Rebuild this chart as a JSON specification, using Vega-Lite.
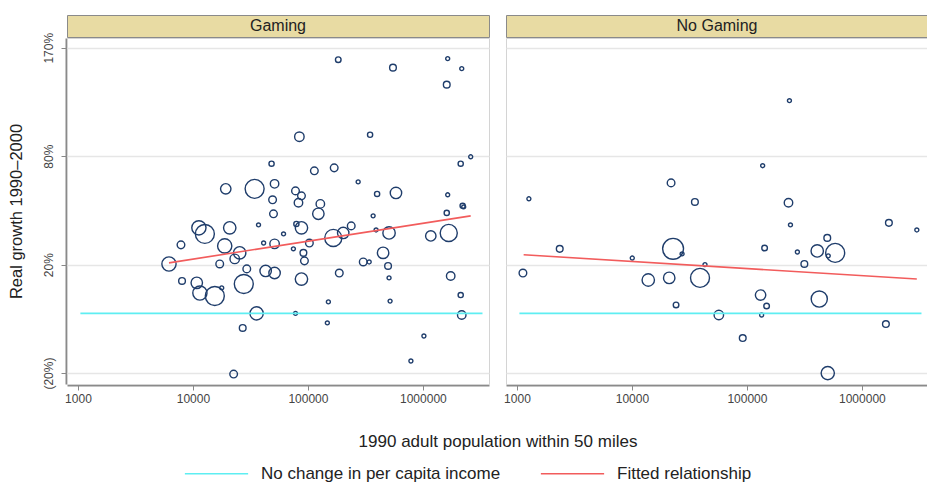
{
  "$schema": "https://vega.github.io/schema/vega-lite/v6.json",
  "background": "white",
  "padding": {"left": 7, "top": 14, "right": 0, "bottom": 0},
  "config": {
    "font": "Liberation Sans",
    "view": {"stroke": "#d0d0d0"},
    "legend": {"orient": "bottom", "direction": "horizontal", "title": null, "symbolType": "stroke", "symbolSize": 4000, "symbolStrokeWidth": 1.6, "labelFontSize": 17, "labelColor": "#222", "labelLimit": 500, "columnPadding": 36, "labelOffset": 12, "offset": -9, "layout": {"bottom": {"anchor": "middle"}}}
  },
  "datasets": {
    "panels": [{"panel": "Gaming"}, {"panel": "No Gaming"}],
    "all": [
      {"panel": "Gaming", "pop": 6190, "ratio": 1.203, "weight": 9},
      {"panel": "Gaming", "pop": 7870, "ratio": 1.292, "weight": 2.6},
      {"panel": "Gaming", "pop": 11270, "ratio": 1.377, "weight": 9},
      {"panel": "Gaming", "pop": 12700, "ratio": 1.346, "weight": 16},
      {"panel": "Gaming", "pop": 20900, "ratio": 1.377, "weight": 6.8},
      {"panel": "Gaming", "pop": 37200, "ratio": 1.392, "weight": 0.7},
      {"panel": "Gaming", "pop": 50200, "ratio": 1.451, "weight": 2.6},
      {"panel": "Gaming", "pop": 18900, "ratio": 1.287, "weight": 9},
      {"panel": "Gaming", "pop": 25500, "ratio": 1.254, "weight": 6.8},
      {"panel": "Gaming", "pop": 17100, "ratio": 1.203, "weight": 2.6},
      {"panel": "Gaming", "pop": 23100, "ratio": 1.226, "weight": 4},
      {"panel": "Gaming", "pop": 29400, "ratio": 1.181, "weight": 2.6},
      {"panel": "Gaming", "pop": 42900, "ratio": 1.172, "weight": 5.8},
      {"panel": "Gaming", "pop": 41200, "ratio": 1.301, "weight": 0.7},
      {"panel": "Gaming", "pop": 27700, "ratio": 1.116, "weight": 16},
      {"panel": "Gaming", "pop": 8040, "ratio": 1.129, "weight": 2},
      {"panel": "Gaming", "pop": 10800, "ratio": 1.121, "weight": 5.8},
      {"panel": "Gaming", "pop": 11500, "ratio": 1.079, "weight": 9},
      {"panel": "Gaming", "pop": 15500, "ratio": 1.067, "weight": 16},
      {"panel": "Gaming", "pop": 17800, "ratio": 1.1, "weight": 0.7},
      {"panel": "Gaming", "pop": 35800, "ratio": 1.0, "weight": 7.8},
      {"panel": "Gaming", "pop": 27100, "ratio": 0.947, "weight": 2},
      {"panel": "Gaming", "pop": 22600, "ratio": 0.797, "weight": 2.6},
      {"panel": "Gaming", "pop": 19300, "ratio": 1.593, "weight": 4.8},
      {"panel": "Gaming", "pop": 34400, "ratio": 1.593, "weight": 16},
      {"panel": "Gaming", "pop": 51300, "ratio": 1.623, "weight": 3.2},
      {"panel": "Gaming", "pop": 48300, "ratio": 1.75, "weight": 1.2},
      {"panel": "Gaming", "pop": 183700, "ratio": 2.582, "weight": 1.4},
      {"panel": "Gaming", "pop": 549500, "ratio": 2.506, "weight": 2},
      {"panel": "Gaming", "pop": 1644000, "ratio": 2.592, "weight": 0.7},
      {"panel": "Gaming", "pop": 2178000, "ratio": 2.497, "weight": 0.7},
      {"panel": "Gaming", "pop": 1613000, "ratio": 2.352, "weight": 2},
      {"panel": "Gaming", "pop": 84300, "ratio": 1.936, "weight": 4},
      {"panel": "Gaming", "pop": 347500, "ratio": 1.95, "weight": 1.2},
      {"panel": "Gaming", "pop": 2606000, "ratio": 1.796, "weight": 0.7},
      {"panel": "Gaming", "pop": 2133000, "ratio": 1.75, "weight": 1.2},
      {"panel": "Gaming", "pop": 113800, "ratio": 1.704, "weight": 2.6},
      {"panel": "Gaming", "pop": 169300, "ratio": 1.723, "weight": 2.6},
      {"panel": "Gaming", "pop": 273600, "ratio": 1.635, "weight": 0.7},
      {"panel": "Gaming", "pop": 78000, "ratio": 1.581, "weight": 2.6},
      {"panel": "Gaming", "pop": 87900, "ratio": 1.552, "weight": 2.6},
      {"panel": "Gaming", "pop": 399900, "ratio": 1.563, "weight": 1.2},
      {"panel": "Gaming", "pop": 583400, "ratio": 1.569, "weight": 5.8},
      {"panel": "Gaming", "pop": 1644000, "ratio": 1.558, "weight": 0.7},
      {"panel": "Gaming", "pop": 128300, "ratio": 1.506, "weight": 3.2},
      {"panel": "Gaming", "pop": 82800, "ratio": 1.512, "weight": 3.2},
      {"panel": "Gaming", "pop": 2218000, "ratio": 1.495, "weight": 1.2},
      {"panel": "Gaming", "pop": 123300, "ratio": 1.451, "weight": 5.8},
      {"panel": "Gaming", "pop": 87900, "ratio": 1.377, "weight": 6.8},
      {"panel": "Gaming", "pop": 79400, "ratio": 1.397, "weight": 1.2},
      {"panel": "Gaming", "pop": 61400, "ratio": 1.346, "weight": 0.7},
      {"panel": "Gaming", "pop": 74800, "ratio": 1.273, "weight": 0.7},
      {"panel": "Gaming", "pop": 91400, "ratio": 1.254, "weight": 2},
      {"panel": "Gaming", "pop": 103000, "ratio": 1.301, "weight": 2.6},
      {"panel": "Gaming", "pop": 93300, "ratio": 1.217, "weight": 2.6},
      {"panel": "Gaming", "pop": 51300, "ratio": 1.163, "weight": 5.8},
      {"panel": "Gaming", "pop": 87900, "ratio": 1.137, "weight": 6.8},
      {"panel": "Gaming", "pop": 166300, "ratio": 1.326, "weight": 13},
      {"panel": "Gaming", "pop": 202900, "ratio": 1.351, "weight": 5.8},
      {"panel": "Gaming", "pop": 238100, "ratio": 1.387, "weight": 2.6},
      {"panel": "Gaming", "pop": 187500, "ratio": 1.163, "weight": 2.6},
      {"panel": "Gaming", "pop": 302900, "ratio": 1.212, "weight": 2.6},
      {"panel": "Gaming", "pop": 341200, "ratio": 1.212, "weight": 0.7},
      {"panel": "Gaming", "pop": 369300, "ratio": 1.44, "weight": 0.7},
      {"panel": "Gaming", "pop": 391700, "ratio": 1.366, "weight": 0.7},
      {"panel": "Gaming", "pop": 508000, "ratio": 1.351, "weight": 6.8},
      {"panel": "Gaming", "pop": 450900, "ratio": 1.254, "weight": 5.8},
      {"panel": "Gaming", "pop": 498000, "ratio": 1.194, "weight": 2},
      {"panel": "Gaming", "pop": 508000, "ratio": 1.142, "weight": 0.7},
      {"panel": "Gaming", "pop": 518600, "ratio": 1.047, "weight": 0.7},
      {"panel": "Gaming", "pop": 150700, "ratio": 1.044, "weight": 0.7},
      {"panel": "Gaming", "pop": 78000, "ratio": 1.0, "weight": 0.7},
      {"panel": "Gaming", "pop": 147600, "ratio": 0.965, "weight": 0.7},
      {"panel": "Gaming", "pop": 1021000, "ratio": 0.919, "weight": 0.7},
      {"panel": "Gaming", "pop": 787000, "ratio": 0.837, "weight": 0.7},
      {"panel": "Gaming", "pop": 1172000, "ratio": 1.336, "weight": 4.8},
      {"panel": "Gaming", "pop": 1679000, "ratio": 1.351, "weight": 13},
      {"panel": "Gaming", "pop": 1613000, "ratio": 1.456, "weight": 1.2},
      {"panel": "Gaming", "pop": 2265000, "ratio": 1.489, "weight": 0.7},
      {"panel": "Gaming", "pop": 1746000, "ratio": 1.15, "weight": 3.2},
      {"panel": "Gaming", "pop": 2133000, "ratio": 1.071, "weight": 1.2},
      {"panel": "Gaming", "pop": 2178000, "ratio": 0.994, "weight": 3.2},
      {"panel": "Gaming", "pop": 51300, "ratio": 1.297, "weight": 4},
      {"panel": "Gaming", "pop": 49300, "ratio": 1.529, "weight": 2.6},
      {"panel": "No Gaming", "pop": 1270, "ratio": 1.535, "weight": 0.7},
      {"panel": "No Gaming", "pop": 21900, "ratio": 1.629, "weight": 2.6},
      {"panel": "No Gaming", "pop": 35300, "ratio": 1.517, "weight": 2},
      {"panel": "No Gaming", "pop": 2355, "ratio": 1.273, "weight": 2},
      {"panel": "No Gaming", "pop": 1127, "ratio": 1.163, "weight": 2.6},
      {"panel": "No Gaming", "pop": 22800, "ratio": 1.273, "weight": 19.4},
      {"panel": "No Gaming", "pop": 27300, "ratio": 1.249, "weight": 0.7},
      {"panel": "No Gaming", "pop": 10070, "ratio": 1.23, "weight": 0.7},
      {"panel": "No Gaming", "pop": 13870, "ratio": 1.133, "weight": 6.8},
      {"panel": "No Gaming", "pop": 21100, "ratio": 1.142, "weight": 5.8},
      {"panel": "No Gaming", "pop": 39100, "ratio": 1.142, "weight": 16},
      {"panel": "No Gaming", "pop": 24200, "ratio": 1.032, "weight": 1.4},
      {"panel": "No Gaming", "pop": 43200, "ratio": 1.2, "weight": 0.7},
      {"panel": "No Gaming", "pop": 234400, "ratio": 2.215, "weight": 0.7},
      {"panel": "No Gaming", "pop": 137100, "ratio": 1.737, "weight": 0.7},
      {"panel": "No Gaming", "pop": 230000, "ratio": 1.512, "weight": 3.2},
      {"panel": "No Gaming", "pop": 239300, "ratio": 1.392, "weight": 0.7},
      {"panel": "No Gaming", "pop": 1718000, "ratio": 1.403, "weight": 2},
      {"panel": "No Gaming", "pop": 3006000, "ratio": 1.366, "weight": 0.7},
      {"panel": "No Gaming", "pop": 142600, "ratio": 1.277, "weight": 1.4},
      {"panel": "No Gaming", "pop": 274800, "ratio": 1.258, "weight": 0.7},
      {"panel": "No Gaming", "pop": 409000, "ratio": 1.263, "weight": 6.8},
      {"panel": "No Gaming", "pop": 500000, "ratio": 1.326, "weight": 2},
      {"panel": "No Gaming", "pop": 586000, "ratio": 1.254, "weight": 16},
      {"panel": "No Gaming", "pop": 510000, "ratio": 1.24, "weight": 0.7},
      {"panel": "No Gaming", "pop": 316000, "ratio": 1.203, "weight": 2},
      {"panel": "No Gaming", "pop": 131500, "ratio": 1.071, "weight": 4.8},
      {"panel": "No Gaming", "pop": 148400, "ratio": 1.028, "weight": 1.4},
      {"panel": "No Gaming", "pop": 426000, "ratio": 1.055, "weight": 11.6},
      {"panel": "No Gaming", "pop": 57000, "ratio": 0.994, "weight": 4},
      {"panel": "No Gaming", "pop": 134300, "ratio": 0.994, "weight": 0.7},
      {"panel": "No Gaming", "pop": 92000, "ratio": 0.912, "weight": 2},
      {"panel": "No Gaming", "pop": 1618000, "ratio": 0.961, "weight": 2},
      {"panel": "No Gaming", "pop": 505000, "ratio": 0.8, "weight": 7.8},
      {"panel": "Gaming", "series": "No change in per capita income", "pop": 1050, "ratio": 1.0},
      {"panel": "Gaming", "series": "No change in per capita income", "pop": 3300000, "ratio": 1.0},
      {"panel": "No Gaming", "series": "No change in per capita income", "pop": 1050, "ratio": 1.0},
      {"panel": "No Gaming", "series": "No change in per capita income", "pop": 3300000, "ratio": 1.0},
      {"panel": "Gaming", "series": "Fitted relationship", "pop": 6190, "ratio": 1.208},
      {"panel": "Gaming", "series": "Fitted relationship", "pop": 2606000, "ratio": 1.44},
      {"panel": "No Gaming", "series": "Fitted relationship", "pop": 1143, "ratio": 1.245},
      {"panel": "No Gaming", "series": "Fitted relationship", "pop": 3006000, "ratio": 1.137}
    ]
  },
  "bounds": "flush",
  "spacing": 23,
  "vconcat": [
    {
      "data": {"name": "panels"},
      "facet": {"column": {"field": "panel", "type": "nominal", "header": {"labels": false, "title": null}}},
      "spacing": {"column": 15},
      "spec": {
        "width": 422,
        "height": 22,
        "view": {"fill": "#e8dba3", "stroke": "#8a8a8a", "strokeWidth": 1},
        "mark": {"type": "text", "fontSize": 16, "color": "#222", "baseline": "middle"},
        "encoding": {"text": {"field": "panel", "type": "nominal"}}
      }
    },
    {
      "data": {"name": "all"},
      "facet": {"column": {"field": "panel", "type": "nominal", "header": {"labels": false, "title": "1990 adult population within 50 miles", "titleOrient": "bottom", "titleFontSize": 17, "titleFontWeight": "normal", "titleColor": "#222", "titlePadding": 20}}},
      "spacing": {"column": 15},
      "spec": {
        "width": 422,
        "height": 346,
        "view": {"stroke": "#d4d4d4"},
        "encoding": {
          "x": {"field": "pop", "type": "quantitative", "scale": {"type": "log", "domain": [803, 3760000], "nice": false},
            "axis": {"values": [1000, 10000, 100000, 1000000], "format": "d", "labelFontSize": 12, "labelColor": "#444", "tickSize": 5, "tickColor": "#888", "domainColor": "#8a8a8a", "domainWidth": 2, "grid": false, "title": null, "labelFlush": false, "labelPadding": 3}},
          "y": {"field": "ratio", "type": "quantitative", "scale": {"type": "log", "domain": [0.768, 2.8], "nice": false},
            "axis": {"values": [0.8, 1.2, 1.8, 2.7], "labelExpr": "datum.value < 1 ? '(' + format((1 - datum.value) * 100, '.0f') + '%)' : format((datum.value - 1) * 100, '.0f') + '%'", "labelAngle": 270, "labelAlign": "center", "labelBaseline": "bottom", "labelFontSize": 12, "labelColor": "#444", "tickSize": 5, "tickColor": "#888", "domainColor": "#8a8a8a", "domainWidth": 2, "gridColor": "#e6e6e6", "gridWidth": 1.5, "title": "Real growth 1990–2000", "titleFontSize": 16.5, "titleFontWeight": "normal", "titleColor": "#222", "titlePadding": 18, "labelPadding": 6}}
        },
        "layer": [
          {
            "transform": [{"filter": "!datum.series"}],
            "mark": {"type": "point", "shape": "circle", "filled": false, "color": "#1f3d6b", "strokeWidth": 1.4, "opacity": 1},
            "encoding": {"size": {"field": "weight", "type": "quantitative", "scale": {"domain": [0, 16], "range": [0, 360]}, "legend": null}}
          },
          {
            "transform": [{"filter": "datum.series"}],
            "mark": {"type": "line", "strokeWidth": 1.6},
            "encoding": {
              "color": {"field": "series", "type": "nominal", "scale": {"domain": ["No change in per capita income", "Fitted relationship"], "range": ["#5eeef2", "#f25c5c"]}},
              "detail": {"field": "series"}
            }
          }
        ]
      }
    }
  ]
}
